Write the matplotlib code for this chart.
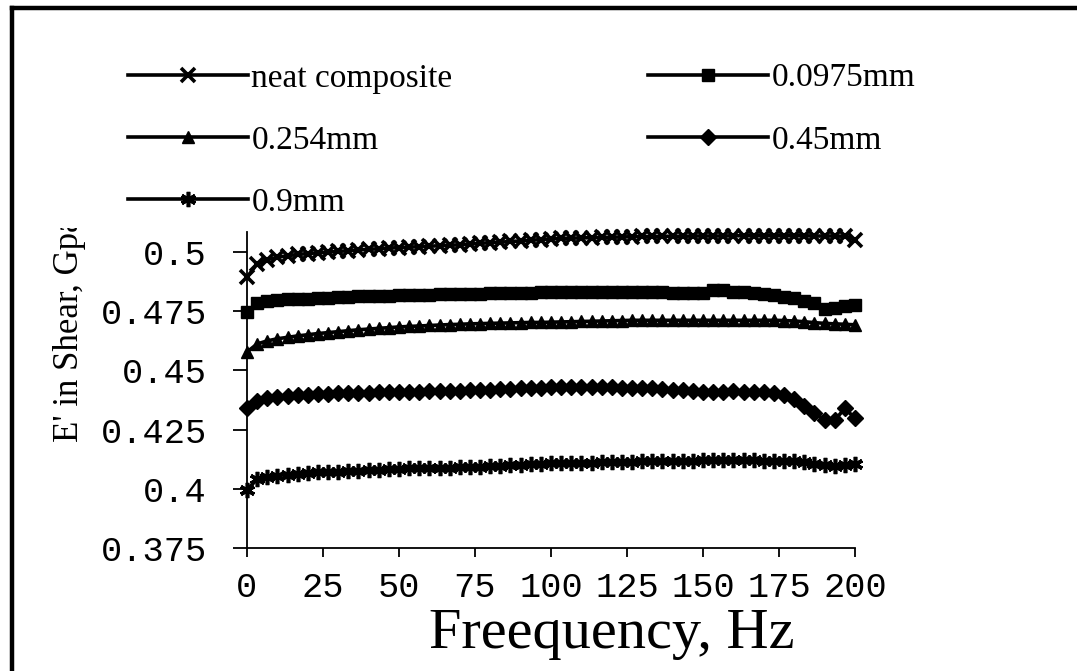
import numpy as np
import matplotlib
matplotlib.use('Agg')
import matplotlib.pyplot as plt
from matplotlib.lines import Line2D
from matplotlib.transforms import Bbox, TransformedBbox

# frequency points (Hz), 61 readings from 0 to 200
freq = np.linspace(0, 200, 61)

neat = [0.4894, 0.4950, 0.4968, 0.4978, 0.4985, 0.4990, 0.4994, 0.4997, 0.5000, 0.5003,
        0.5006, 0.5009, 0.5012, 0.5014, 0.5017, 0.5019, 0.5021, 0.5023, 0.5025, 0.5027,
        0.5029, 0.5031, 0.5034, 0.5037, 0.5040, 0.5042, 0.5045, 0.5047, 0.5050, 0.5053,
        0.5056, 0.5058, 0.5059, 0.5060, 0.5061, 0.5062, 0.5063, 0.5064, 0.5065, 0.5066,
        0.5066, 0.5067, 0.5067, 0.5067, 0.5068, 0.5068, 0.5068, 0.5068, 0.5069, 0.5069,
        0.5069, 0.5069, 0.5069, 0.5069, 0.5069, 0.5069, 0.5068, 0.5068, 0.5068, 0.5067,
        0.5052]
mm0975 = [0.4747, 0.4785, 0.4793, 0.4797, 0.4800, 0.4802, 0.4804, 0.4806, 0.4808, 0.4810,
          0.4812, 0.4813, 0.4814, 0.4815, 0.4816, 0.4817, 0.4818, 0.4819, 0.4820, 0.4821,
          0.4822, 0.4823, 0.4824, 0.4825, 0.4826, 0.4827, 0.4828, 0.4829, 0.4829, 0.4830,
          0.4830, 0.4830, 0.4830, 0.4830, 0.4830, 0.4830, 0.4830, 0.4830, 0.4830, 0.4830,
          0.4830, 0.4830, 0.4829, 0.4829, 0.4829, 0.4828, 0.4842, 0.4838, 0.4833, 0.4830,
          0.4827, 0.4823, 0.4818, 0.4812, 0.4805, 0.4795, 0.4783, 0.4760, 0.4765, 0.4772,
          0.4776]
mm254 = [0.4578, 0.4612, 0.4625, 0.4634, 0.4640, 0.4646, 0.4651, 0.4656, 0.4660, 0.4664,
         0.4668, 0.4672, 0.4675, 0.4678, 0.4681, 0.4684, 0.4686, 0.4688, 0.4690, 0.4692,
         0.4694, 0.4695, 0.4697, 0.4698, 0.4699, 0.4700, 0.4701, 0.4702, 0.4703, 0.4703,
         0.4704, 0.4705, 0.4706, 0.4707, 0.4708, 0.4709, 0.4710, 0.4711, 0.4712, 0.4712,
         0.4712, 0.4712, 0.4712, 0.4712, 0.4712, 0.4712, 0.4712, 0.4712, 0.4712, 0.4712,
         0.4712, 0.4712, 0.4712, 0.4711, 0.4709, 0.4706, 0.4702, 0.4699, 0.4697, 0.4695,
         0.4693]
mm45 = [0.4341, 0.4372, 0.4382, 0.4388, 0.4392, 0.4395, 0.4397, 0.4399, 0.4401, 0.4403,
        0.4404, 0.4405, 0.4406, 0.4407, 0.4408, 0.4409, 0.4410, 0.4411, 0.4412, 0.4413,
        0.4414, 0.4415, 0.4416, 0.4417, 0.4419, 0.4421, 0.4423, 0.4425, 0.4427, 0.4428,
        0.4429, 0.4430, 0.4430, 0.4430, 0.4430, 0.4430, 0.4429, 0.4428, 0.4427, 0.4426,
        0.4425, 0.4422, 0.4419, 0.4416, 0.4413, 0.4410, 0.4410, 0.4411, 0.4412, 0.4411,
        0.4410, 0.4408, 0.4403, 0.4395, 0.4378, 0.4350, 0.4320, 0.4292, 0.4290, 0.4340,
        0.4298]
mm9 = [0.3997, 0.4040, 0.4050, 0.4056, 0.4060, 0.4063, 0.4066, 0.4069, 0.4071, 0.4073,
       0.4075, 0.4077, 0.4079, 0.4081, 0.4083, 0.4085, 0.4086, 0.4087, 0.4088, 0.4089,
       0.4090, 0.4091, 0.4092, 0.4093, 0.4095, 0.4097, 0.4099, 0.4101, 0.4103, 0.4105,
       0.4107, 0.4108, 0.4109, 0.4110, 0.4111, 0.4112, 0.4113, 0.4114, 0.4115, 0.4116,
       0.4117, 0.4118, 0.4118, 0.4119, 0.4119, 0.4120, 0.4120, 0.4120, 0.4120, 0.4120,
       0.4120, 0.4119, 0.4119, 0.4118, 0.4116, 0.4112, 0.4106, 0.4100, 0.4098, 0.4101,
       0.4104]

labels = ['neat composite', '0.0975mm', '0.254mm', '0.45mm', '0.9mm']
series = [neat, mm0975, mm254, mm45, mm9]
markers = ['x', 's', '^', 'D', (6, 2, 0)]
msizes = [10, 8, 9, 8, 11]

y_ticks = [0.375, 0.4, 0.425, 0.45, 0.475, 0.5]
y_ticklabels = ['0.375', '0.4', '0.425', '0.45', '0.475', '0.5']
x_ticks = [0, 25, 50, 75, 100, 125, 150, 175, 200]

W, H = 1077, 671
fig = plt.figure(figsize=(W / 100, H / 100), dpi=100)
ax = fig.add_axes([247 / W, 1 - 548 / H, (855 - 247) / W, (548 - 232) / H])

handles = []
for vals, lab, m, ms in zip(series, labels, markers, msizes):
    thin = m == 'x' or isinstance(m, tuple)
    ln, = ax.plot(freq, vals, color='black', lw=2.6, marker=m, ms=ms,
                  mew=2.6 if thin else 1, mfc='black', mec='black',
                  label=lab, clip_on=False)
    handles.append(ln)

ax.set_xlim(0, 200)
ax.set_ylim(0.375, 0.5085)
ax.set_yticks(y_ticks)
ax.set_yticklabels(y_ticklabels)
ax.set_xticks(x_ticks)
ax.set_xticklabels([str(t) for t in x_ticks])
for s in ['top', 'right']:
    ax.spines[s].set_visible(False)
for s in ['left', 'bottom']:
    ax.spines[s].set_linewidth(1.3)
ax.tick_params(axis='y', direction='out', length=10, width=1.3, pad=19)
ax.tick_params(axis='x', direction='out', length=6.5, width=1.3, pad=10)
for t in ax.get_xticklabels() + ax.get_yticklabels():
    t.set_fontfamily('Liberation Mono')
    t.set_fontsize(25.5)

# axis titles
fig.text(612 / W, 1 - 648 / H, 'Freequency, Hz', family='Liberation Serif',
         fontsize=42, ha='center', va='baseline')
ylab = fig.text(78 / W, 1 - 442 / H, "E' in Shear, Gpa", family='Liberation Serif',
                fontsize=25, rotation=90, rotation_mode='anchor',
                ha='left', va='baseline')
ylab.set_clip_box(TransformedBbox(Bbox([[0, 0], [1, 1 - 228 / H]]), fig.transFigure))

# legend in two columns, filled row by row like the original
leg_kw = dict(frameon=False, handlelength=3.6, handletextpad=0.1,
              borderpad=0, borderaxespad=0, labelspacing=0.95, numpoints=1,
              prop={'family': 'Liberation Serif', 'size': 24})
fig.legend([handles[0], handles[2], handles[4]], [labels[0], labels[2], labels[4]],
           loc='upper left', bbox_to_anchor=(128 / W, 1 - 63 / H), **leg_kw)
fig.legend([handles[1], handles[3]], [labels[1], labels[3]],
           loc='upper left', bbox_to_anchor=(648 / W, 1 - 63 / H), **leg_kw)

# outer frame (left and top edges visible)
fig.add_artist(Line2D([12 / W, 12 / W], [0, 1 - 8 / H], transform=fig.transFigure,
                      color='black', lw=3.2))
fig.add_artist(Line2D([12 / W, 1], [1 - 8 / H, 1 - 8 / H], transform=fig.transFigure,
                      color='black', lw=3.2))

fig.savefig('out.png', dpi=100)
